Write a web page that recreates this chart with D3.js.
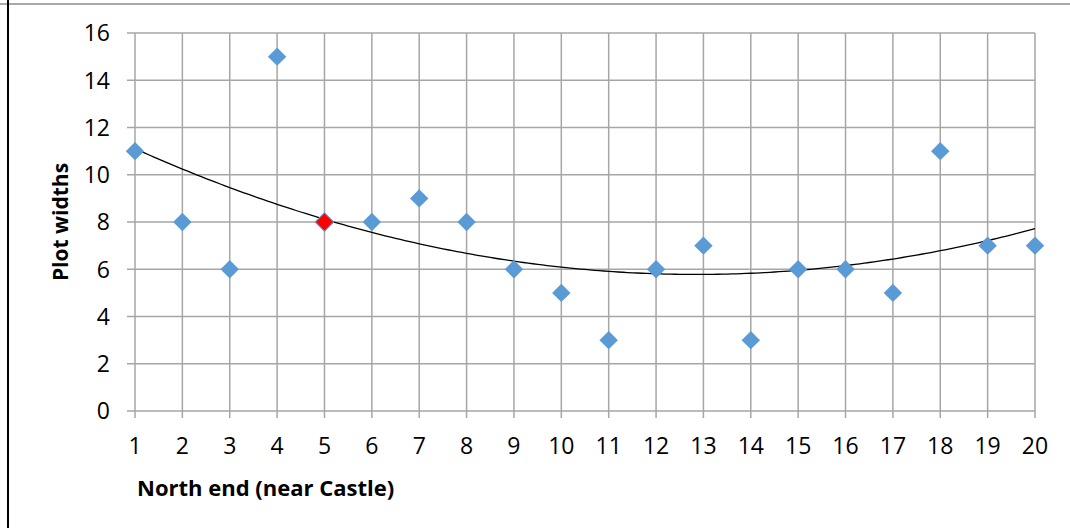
<!DOCTYPE html>
<html><head><meta charset="utf-8">
<script src="https://cdn.jsdelivr.net/npm/d3@7"></script>
<style>body{margin:0;background:#fff}svg{display:block}</style>
</head><body>
<svg id="c" width="1070" height="528"></svg>
<script>
const positions = [1,2,3,4,5,6,7,8,9,10,11,12,13,14,15,16,17,18,19,20];
const widths = [11,8,6,15,8,8,9,8,6,5,3,6,7,3,6,6,5,11,7,7];
const highlightIndex = [4];
const yTicks = [0,2,4,6,8,10,12,14,16];
const xTitle = "North end (near Castle)";
const yTitle = "Plot widths";

const svg = d3.select("#c");
const font = "'Open Sans', sans-serif";
const x = d3.scaleLinear().domain([1,20]).range([135,1035]);
const y = d3.scaleLinear().domain([0,16]).range([411,33]);

// frame
svg.append("line").attr("x1",0).attr("x2",1070).attr("y1",4).attr("y2",4).attr("stroke","#8c8c8c").attr("stroke-width",1.5);
svg.append("line").attr("x1",8).attr("x2",8).attr("y1",0).attr("y2",528).attr("stroke","#000").attr("stroke-width",2);

// gridlines
const g = svg.append("g");
g.selectAll(".hg").data(yTicks).enter().append("line")
  .attr("x1",127).attr("x2",x(20)).attr("y1",d=>y(d)).attr("y2",d=>y(d))
  .attr("stroke","#a6a6a6").attr("stroke-width",1.5);
g.selectAll(".vg").data(positions).enter().append("line")
  .attr("x1",d=>x(d)).attr("x2",d=>x(d)).attr("y1",y(16)).attr("y2",y(0)+7)
  .attr("stroke","#a6a6a6").attr("stroke-width",1.5);

// tick labels
svg.selectAll(".yl").data(yTicks).enter().append("text")
  .attr("x",110).attr("y",d=>y(d)).attr("dy","0.36em").attr("text-anchor","end")
  .attr("font-family",font).attr("font-size",23).attr("fill","#000").text(d=>d);
svg.selectAll(".xl").data(positions).enter().append("text")
  .attr("x",d=>x(d)).attr("y",446).attr("dy","0.36em").attr("text-anchor","middle")
  .attr("font-family",font).attr("font-size",23).attr("fill","#000").text(d=>d);

// titles
svg.append("text").attr("x",137).attr("y",496).attr("font-family",font).attr("font-weight","bold")
  .attr("font-size",22).attr("fill","#000").text(xTitle);
svg.append("text").attr("transform","translate(68,222) rotate(-90)").attr("text-anchor","middle")
  .attr("font-family",font).attr("font-weight","bold").attr("font-size",21).attr("fill","#000").text(yTitle);

// quadratic least-squares trendline
function polyfit2(xs, ys){
  let S=[0,0,0,0,0], T=[0,0,0];
  xs.forEach((xv,i)=>{ for(let k=0;k<5;k++) S[k]+=Math.pow(xv,k); for(let k=0;k<3;k++) T[k]+=ys[i]*Math.pow(xv,k); });
  const A=[[S[0],S[1],S[2],T[0]],[S[1],S[2],S[3],T[1]],[S[2],S[3],S[4],T[2]]];
  for(let i=0;i<3;i++){ for(let j=i+1;j<3;j++){ const f=A[j][i]/A[i][i]; for(let k=i;k<4;k++) A[j][k]-=f*A[i][k]; } }
  const c=[0,0,0];
  for(let i=2;i>=0;i--){ let s=A[i][3]; for(let k=i+1;k<3;k++) s-=A[i][k]*c[k]; c[i]=s/A[i][i]; }
  return c;
}
const coef = polyfit2(positions, widths);
const trend = d3.range(1,20.001,0.1).map(t=>[t, coef[0]+coef[1]*t+coef[2]*t*t]);
svg.append("path").datum(trend)
  .attr("d", d3.line().x(d=>x(d[0])).y(d=>y(d[1])))
  .attr("fill","none").attr("stroke","#000").attr("stroke-width",1.3);

// markers
svg.selectAll(".pt").data(positions).enter().append("path")
  .attr("transform",(d,i)=>`translate(${x(d)},${y(widths[i])}) rotate(45)`)
  .attr("d", d3.symbol().type(d3.symbolSquare).size(170))
  .attr("fill",(d,i)=>highlightIndex.includes(i)?"#ff0000":"#5b9bd5")
  .attr("stroke",(d,i)=>highlightIndex.includes(i)?"#5b9bd5":"none")
  .attr("stroke-width",1);
</script>
</body></html>
